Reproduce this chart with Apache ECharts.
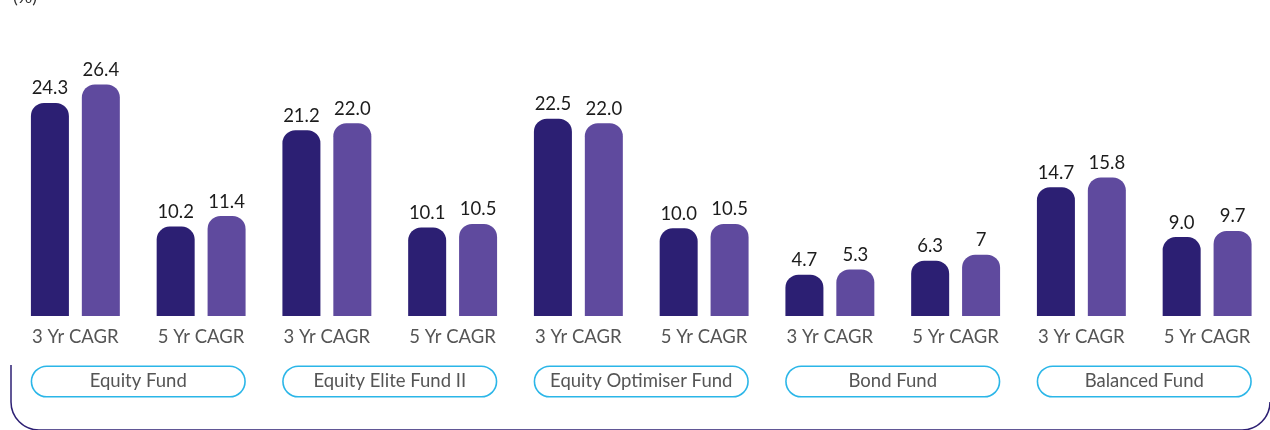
<!DOCTYPE html>
<html>
<head>
<meta charset="utf-8">
<script src="https://cdn.jsdelivr.net/npm/echarts@6/dist/echarts.min.js"></script>
<style>
  html, body { margin: 0; padding: 0; background: #ffffff; }
  #chart { width: 1270px; height: 430px; }
</style>
</head>
<body>
<div id="chart"></div>
<script>
// Fund names and the CAGR period labels under each pair of bars
const funds = ['Equity Fund', 'Equity Elite Fund II', 'Equity Optimiser Fund', 'Bond Fund', 'Balanced Fund'];
const periods = ['3 Yr CAGR', '5 Yr CAGR', '3 Yr CAGR', '5 Yr CAGR', '3 Yr CAGR', '5 Yr CAGR', '3 Yr CAGR', '5 Yr CAGR', '3 Yr CAGR', '5 Yr CAGR'];

// Returns (%) as printed on the bars: fund and benchmark
const fundReturns = ['24.3', '10.2', '21.2', '10.1', '22.5', '10.0', '4.7', '6.3', '14.7', '9.0'];
const benchmarkReturns = ['26.4', '11.4', '22.0', '10.5', '22.0', '10.5', '5.3', '7', '15.8', '9.7'];

const FONT = 'Lato, "Open Sans", sans-serif';
const FRAME = '#2c1f73';
const chart = echarts.init(document.getElementById('chart'), null, { renderer: 'canvas' });

function barSeries(name, values, color) {
  return {
    name: name,
    type: 'bar',
    xAxisIndex: 0,
    barWidth: 38,
    barGap: '34%',
    data: values.map(Number),
    itemStyle: { color: color, borderRadius: [13, 13, 0, 0] },
    label: {
      show: true,
      position: 'top',
      distance: 5,
      color: '#1c1c1c',
      fontFamily: FONT,
      fontSize: 18.5,
      formatter: p => values[p.dataIndex]
    },
    emphasis: { disabled: true },
    animation: false
  };
}

// Rounded frame around the lower part of the panel
const frameStyle = { fill: null, stroke: FRAME, lineWidth: 1.5 };
const frame = [
  { type: 'line', silent: true, shape: { x1: 11, y1: 365, x2: 11, y2: 402 }, style: frameStyle },
  { type: 'arc', silent: true, shape: { cx: 39, cy: 402, r: 28, startAngle: Math.PI / 2, endAngle: Math.PI, clockwise: true }, style: frameStyle },
  { type: 'line', silent: true, shape: { x1: 39, y1: 430, x2: 1242, y2: 430 }, style: frameStyle },
  { type: 'arc', silent: true, shape: { cx: 1242, cy: 402, r: 28, startAngle: 0, endAngle: Math.PI / 2, clockwise: true }, style: frameStyle }
];

chart.setOption({
  animation: false,
  title: {
    text: '(%)',
    left: 8,
    top: -17,
    textStyle: { fontFamily: FONT, fontSize: 18, fontWeight: 'normal', color: '#333' }
  },
  grid: { left: 12.5, width: 1261, top: 53, bottom: 114, containLabel: false },
  xAxis: [
    {
      type: 'category',
      data: periods,
      axisLine: { show: false },
      axisTick: { show: false },
      axisLabel: {
        margin: 12,
        color: '#555555',
        fontFamily: FONT,
        fontSize: 18.5,
        interval: 0
      }
    },
    {
      type: 'category',
      data: funds,
      position: 'bottom',
      axisLine: { show: false },
      axisTick: { show: false },
      axisLabel: {
        margin: 51,
        interval: 0,
        color: '#555555',
        fontFamily: FONT,
        fontSize: 18.5,
        width: 212,
        height: 29,
        lineHeight: 29,
        align: 'center',
        borderColor: '#2bb6e8',
        borderWidth: 1.6,
        borderRadius: 16,
        backgroundColor: '#ffffff'
      }
    }
  ],
  yAxis: {
    type: 'value',
    min: 0,
    max: 30,
    show: false,
    splitLine: { show: false }
  },
  graphic: frame,
  series: [
    barSeries('Fund', fundReturns, '#2c1f73'),
    barSeries('Benchmark', benchmarkReturns, '#5f4a9e')
  ]
});
</script>
</body>
</html>
